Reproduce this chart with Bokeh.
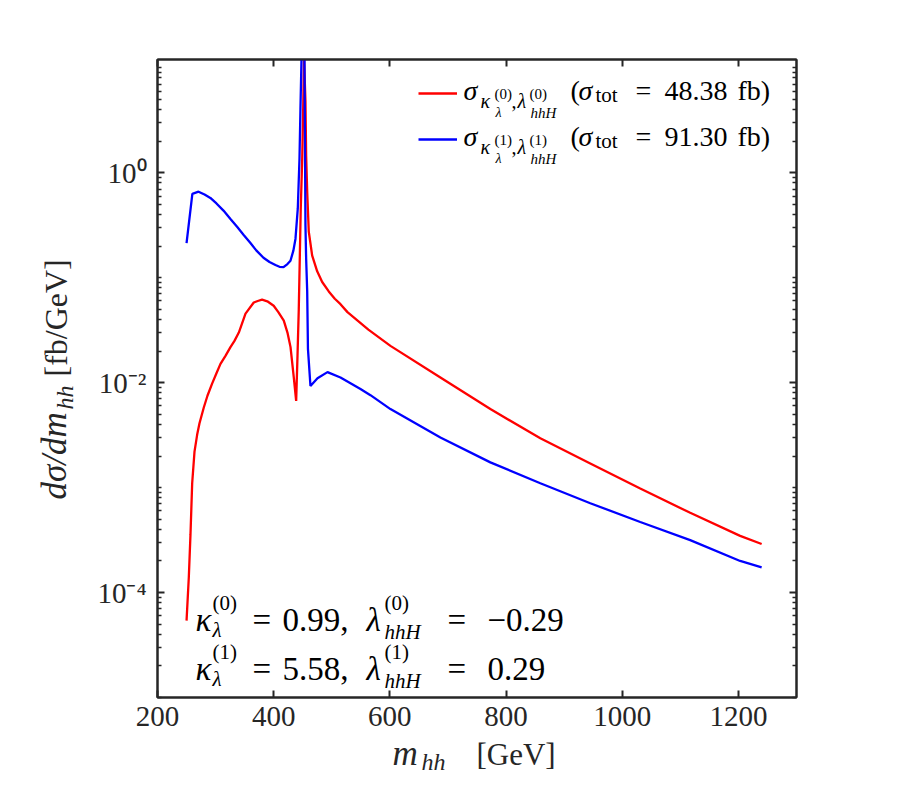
import numpy as np
from bokeh.plotting import figure
from bokeh.models import (LabelSet, ColumnDataSource, Legend, LegendItem, FixedTicker,
                          LinearAxis, LogAxis, Range1d, CustomJSTickFormatter, Column)
from bokeh.core.properties import value, field
from bokeh.embed import file_html
from bokeh.resources import INLINE

# ---------------- data ----------------
m_red = [250.0, 253.9, 256.8, 259.7, 263.7, 268.3, 272.3, 279.7, 286.0, 294.0,
         301.5, 308.4, 317.0, 325.6, 332.5, 340.0, 351.5, 365.7, 372.5, 380.0,
         389.0, 400.0, 408.0, 417.4, 423.7, 429.0, 434.6, 438.7, 441.0, 443.2,
         444.9, 446.6, 449.1, 450.8, 452.2, 454.7, 455.9, 457.7, 460.4, 466.3,
         474.9, 483.5, 494.8, 505.2, 515.0, 527.0, 563.0, 601.0, 687.0, 773.0,
         859.0, 945.0, 1031.0, 1117.0, 1203.0, 1240.0]
dsig_red = [5.4e-5, 1.4e-4, 3.6e-4, 1.1e-3, 2.2e-3, 3.2e-3, 4.1e-3, 5.8e-3, 7.5e-3, 9.8e-3,
            0.0123, 0.0151, 0.018, 0.0218, 0.025, 0.030, 0.0455, 0.058, 0.060, 0.0617,
            0.0596, 0.054, 0.047, 0.039, 0.030, 0.0218, 0.0112, 0.0067, 0.018, 0.05,
            0.151, 0.457, 1.35, 4.1, 12.5, 4.8, 1.45, 0.66, 0.275, 0.162,
            0.115, 0.091, 0.074, 0.063, 0.056, 0.047, 0.032, 0.0224, 0.0112, 0.0056,
            0.00295, 0.0017, 0.00098, 0.000575, 0.000347, 0.00029]

m_blue = [250.0, 260.0, 270.6, 281.0, 291.0, 301.5, 313.6, 325.6, 337.7, 348.0,
          360.0, 370.0, 382.4, 392.8, 403.0, 410.0, 416.9, 423.7, 428.9, 434.0,
          437.5, 441.5, 444.4, 446.1, 448.7, 453.0, 454.7, 455.9, 457.7, 459.0,
          463.3, 475.4, 492.6, 515.0, 549.4, 566.6, 601.0, 687.0, 773.0, 859.0,
          945.0, 1031.0, 1117.0, 1203.0, 1240.0]
dsig_blue = [0.214, 0.63, 0.66, 0.62, 0.575, 0.51, 0.436, 0.363, 0.302, 0.257,
             0.214, 0.182, 0.155, 0.141, 0.132, 0.127, 0.126, 0.135, 0.145, 0.182,
             0.234, 0.457, 1.35, 4.1, 20.0, 14.0, 0.316, 0.151, 0.074, 0.021,
             0.0093, 0.011, 0.0126, 0.0112, 0.0087, 0.0076, 0.0056, 0.0030, 0.00174, 0.00110,
             0.00071, 0.00047, 0.000316, 0.00020, 0.000174]

x_tick_values = [200, 400, 600, 800, 1000, 1200]
y_tick_values = [1e-4, 1e-2, 1.0]
y_tick_labels = ["10\u207b\u2074", "10\u207b\u00b2", "10\u2070"]
sigma_tot = ["48.38", "91.30"]
kappa_vals = ["0.99,", "5.58,"]
lambda_vals = ["\u22120.29", "0.29"]
orders = ["(0)", "(1)"]

# ---------------- main figure ----------------
FONT = "Liberation Serif"
INK = "#262626"
FX0, FY0 = 157, 697            # page position of the frame's left / bottom edges
W, H = 906, 787                # canvas size
SHIFT = 159                    # overlay is aligned to the main frame; undo that with CSS

p = figure(frame_width=639, frame_height=638,
           x_range=Range1d(200, 1300), y_range=Range1d(1e-5, 12.0),
           y_axis_type="log", output_backend="svg", toolbar_location=None,
           min_border_left=157, min_border_right=110, min_border_top=59,
           min_border_bottom=90, background_fill_color="white",
           border_fill_color="white")
p.outline_line_color = INK
p.outline_line_width = 2
p.xgrid.visible = False
p.ygrid.visible = False

minor = sorted(set(k * 10.0 ** e for e in range(-5, 2) for k in range(1, 10)) - set(y_tick_values))
yt = FixedTicker(ticks=y_tick_values, minor_ticks=minor)
xt = FixedTicker(ticks=x_tick_values)


def style(ax, labels):
    ax.axis_line_color = INK
    ax.axis_line_width = 2
    ax.major_tick_in = 7
    ax.major_tick_out = 0
    ax.minor_tick_in = 4
    ax.minor_tick_out = 0
    ax.major_tick_line_color = INK
    ax.major_tick_line_width = 2
    ax.minor_tick_line_color = INK
    ax.minor_tick_line_width = 1.5
    ax.major_label_text_font = FONT
    ax.major_label_text_font_size = "29px"
    ax.major_label_text_color = INK
    if labels:
        ax.major_label_standoff = 9
    else:
        ax.formatter = CustomJSTickFormatter(code="return ''")
        ax.major_label_standoff = 0


p.xaxis.ticker = xt
p.yaxis.ticker = yt
style(p.xaxis[0], True)
style(p.yaxis[0], True)
p.yaxis.major_label_standoff = 11
p.yaxis.major_label_overrides = dict(zip(y_tick_values, y_tick_labels))
top_ax = LinearAxis(ticker=xt)
right_ax = LogAxis(ticker=yt)
style(top_ax, False)
style(right_ax, False)
p.add_layout(top_ax, "above")
p.add_layout(right_ax, "right")

# ---------------- curves ----------------
r_red = p.line(m_red, dsig_red, line_color="#FF0000", line_width=2.3)
r_blue = p.line(m_blue, dsig_blue, line_color="#0000FF", line_width=2.3)

leg = Legend(items=[LegendItem(label=value(" "), renderers=[r_red]),
                    LegendItem(label=value(" "), renderers=[r_blue])],
             location=(418 - FX0, FY0 - 149), padding=0, margin=0, spacing=26,
             glyph_width=39, glyph_height=20, label_height=20, label_width=1,
             label_standoff=0, label_text_font_size="10px",
             border_line_color=None, background_fill_alpha=0)
p.add_layout(leg)


# ---------------- text pieces ----------------
def store():
    return dict(x=[], y=[], text=[], fs=[], style=[], color=[], angle=[])


def piece(st, s, px, py, size, italic=False, color="black", rotated=False, frame=True):
    if frame:
        st["x"].append(px - FX0)
        st["y"].append(FY0 - py)
    else:
        st["x"].append(px - (0.45 * size if rotated else 0.0))
        st["y"].append(H - py + (0.0 if rotated else 0.35 * size))
    st["text"].append(s)
    st["fs"].append(f"{size}px")
    st["style"].append("italic" if italic else "normal")
    st["color"].append(color)
    st["angle"].append(np.pi / 2 if rotated else 0.0)


# legend and parameter texts inside the frame
inner_st = store()
for i in range(2):
    B = 99 + 46 * i
    piece(inner_st, "\u03c3", 463, B, 28, italic=True)
    piece(inner_st, "\u03ba", 480, B + 8, 20, italic=True)
    piece(inner_st, orders[i], 494, B - 1, 15)
    piece(inner_st, "\u03bb", 495, B + 17, 14, italic=True)
    piece(inner_st, ",", 511, B + 8, 20)
    piece(inner_st, "\u03bb", 517, B + 8, 20, italic=True)
    piece(inner_st, orders[i], 529, B - 1, 15)
    piece(inner_st, "hhH", 530, B + 18, 15, italic=True)
    piece(inner_st, "(", 570, B, 28)
    piece(inner_st, "\u03c3", 578, B, 28, italic=True)
    piece(inner_st, "tot", 595, B + 2, 21)
    piece(inner_st, "=", 635, B, 28)
    piece(inner_st, sigma_tot[i], 664, B, 28)
    piece(inner_st, "fb)", 737, B, 28)
for i in range(2):
    B = 630 + 49 * i
    piece(inner_st, "\u03ba", 195, B, 33, italic=True)
    piece(inner_st, orders[i], 212, B - 21, 21)
    piece(inner_st, "\u03bb", 212, B + 6, 21, italic=True)
    piece(inner_st, "=", 252, B, 33)
    piece(inner_st, kappa_vals[i], 282, B, 33)
    piece(inner_st, "\u03bb", 366, B, 33, italic=True)
    piece(inner_st, orders[i], 384, B - 21, 21)
    piece(inner_st, "hhH", 384, B + 8, 21, italic=True)
    piece(inner_st, "=", 447, B, 33)
    piece(inner_st, lambda_vals[i], 487, B, 33)

p.add_layout(LabelSet(source=ColumnDataSource(inner_st), x="x", y="y", text="text",
                      x_units="screen", y_units="screen",
                      text_font=value(FONT), text_font_size=field("fs"),
                      text_font_style=field("style"), text_color=field("color"),
                      angle=field("angle"), text_align=value("left"),
                      text_baseline=value("alphabetic")))

# ---------------- transparent overlay for the axis titles ----------------
ov = figure(frame_width=W, frame_height=H, x_range=Range1d(0, W), y_range=Range1d(0, H),
            output_backend="svg", toolbar_location=None, min_border=0,
            x_axis_location=None, y_axis_location=None,
            background_fill_alpha=0, border_fill_alpha=0, outline_line_color=None)
ov.xgrid.visible = False
ov.ygrid.visible = False
ov.styles = {"position": "absolute", "left": "0px", "top": "0px",
             "transform": f"translateX(-{SHIFT}px)"}

outer_st = store()
piece(outer_st, "m", 394, 765, 35, italic=True, color=INK, frame=False)
piece(outer_st, "hh", 423, 770, 24, italic=True, color=INK, frame=False)
piece(outer_st, "[GeV]", 478, 765, 31, color=INK, frame=False)
piece(outer_st, "d\u03c3/dm", 72, 499, 35, italic=True, color=INK, rotated=True, frame=False)
piece(outer_st, "hh", 77, 409, 24, italic=True, color=INK, rotated=True, frame=False)
piece(outer_st, "[fb/GeV]", 72, 376, 32, color=INK, rotated=True, frame=False)
ov.text(x="x", y="y", text="text", source=ColumnDataSource(outer_st),
        text_font=value(FONT), text_font_size=field("fs"),
        text_font_style=field("style"), text_color=field("color"),
        angle=field("angle"), text_align=value("left"),
        text_baseline=value("alphabetic"))

layout = Column(children=[p, ov])
open("out.html", "w").write(file_html(layout, INLINE))
